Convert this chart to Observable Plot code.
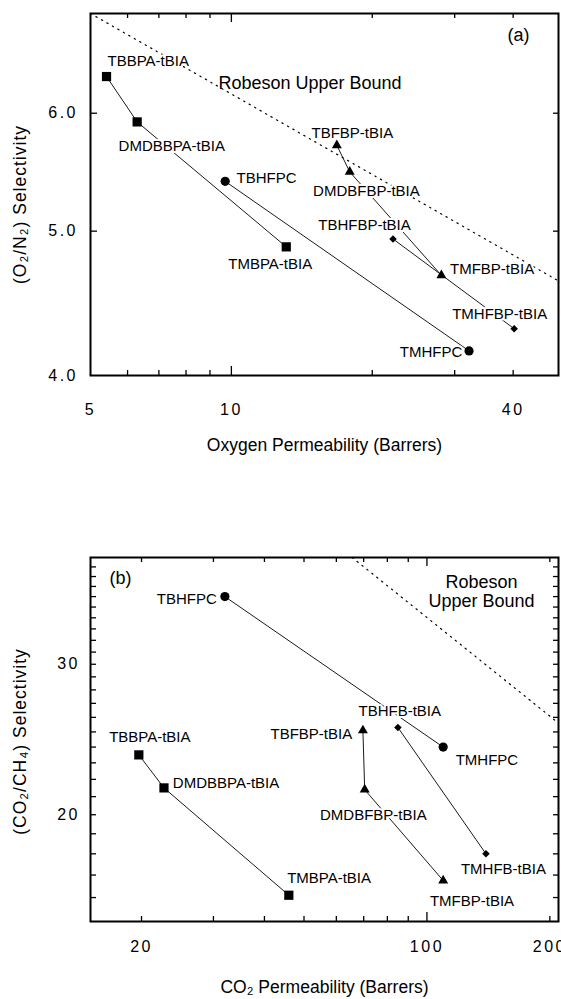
<!DOCTYPE html>
<html>
<head>
<meta charset="utf-8">
<script src="https://cdn.jsdelivr.net/npm/d3@7"></script>
<script src="https://cdn.jsdelivr.net/npm/@observablehq/plot@0.6"></script>
<style>
  html, body { margin: 0; padding: 0; background: #fff; }
  svg { display: block; }
  g[aria-label="x-axis tick label"] text, g[aria-label="y-axis tick label"] text { letter-spacing: 2.5px; }
  .ytitle text { letter-spacing: 1px; }
</style>
</head>
<body>
<div id="a"></div>
<div id="b"></div>
<script>
// ---------- Panel (a): O2/N2 ----------
const namesA = ["TBBPA-tBIA", "DMDBBPA-tBIA", "TMBPA-tBIA", "TBHFPC", "TMHFPC", "TBFBP-tBIA", "DMDBFBP-tBIA", "TMFBP-tBIA", "TBHFBP-tBIA", "TMHFBP-tBIA"];
const seriesA = ["BPA", "BPA", "BPA", "HFPC", "HFPC", "FBP", "FBP", "FBP", "HFBP", "HFBP"];
const o2Perm = [5.41, 6.29, 13.1, 9.70, 32.2, 16.8, 17.9, 28.1, 22.15, 40.2];
const o2n2Sel = [6.35, 5.92, 4.88, 5.40, 4.155, 5.71, 5.48, 4.67, 4.94, 4.30];
const robesonPermA = [5, 50];
const robesonSelA = [7.0, 4.63];
const xMinorA = [6, 7, 8, 9, 20, 30, 40];
const xMajorA = [10];
const xLabelsA = [5, 10, 40];
const yTicksA = [5, 6];
const yLabelsA = [4, 5, 6];

// ---------- Panel (b): CO2/CH4 ----------
const namesB = ["TBBPA-tBIA", "DMDBBPA-tBIA", "TMBPA-tBIA", "TBHFPC", "TMHFPC", "TBFBP-tBIA", "DMDBFBP-tBIA", "TMFBP-tBIA", "TBHFB-tBIA", "TMHFB-tBIA"];
const seriesB = ["BPA", "BPA", "BPA", "HFPC", "HFPC", "FBP", "FBP", "FBP", "HFBP", "HFBP"];
const co2Perm = [19.7, 22.7, 45.9, 32.0, 109.6, 69.7, 70.4, 109.6, 84.9, 139.5];
const co2ch4Sel = [23.5, 21.5, 16.1, 36.0, 24.0, 25.1, 21.4, 16.75, 25.3, 18.0];
const robesonPermB = [65.6, 210];
const robesonSelB = [40, 25.6];
const xMinorB = [20, 30, 40, 50, 60, 70, 80, 90, 200];
const xMajorB = [100];
const xLabelsB = [20, 100, 200];
const yTicksB = [16,17,18,19,20,21,22,23,24,25,26,27,28,29,30,31,32,33,34,35,36,37,38,39];
const yLabelsB = [20, 30];

// ---------- styling / layout ----------
const fontFamily = '"Liberation Sans", Arial, Helvetica, sans-serif';
const W = 561;
const layoutA = {height: 470, marginTop: 13, marginBottom: 95, marginLeft: 90, marginRight: 3};
const layoutB = {height: 529, marginTop: 87, marginBottom: 78, marginLeft: 90, marginRight: 3};
const markerStyle = {
  BPA: {symbol: "square", r: 5.2},
  HFPC: {symbol: "circle", r: 4.6},
  FBP: {symbol: "triangle", r: 3.7},
  HFBP: {symbol: "diamond2", r: 3.4}
};
// label placement relative to its point: [dx, dy, textAnchor]
const labelPosA = {
  "TBBPA-tBIA": [1, -15, "start"],
  "DMDBBPA-tBIA": [-18.6, 24, "start"],
  "TMBPA-tBIA": [-58, 17.3, "start"],
  "TBHFPC": [11.3, -3, "start"],
  "TMHFPC": [-6.8, 1.4, "end"],
  "TBFBP-tBIA": [-25.3, -12.3, "start"],
  "DMDBFBP-tBIA": [-36.6, 19.7, "start"],
  "TMFBP-tBIA": [8.6, -5.7, "start"],
  "TBHFBP-tBIA": [-74.8, -14, "start"],
  "TMHFBP-tBIA": [-62, -15, "start"]
};
const labelPosB = {
  "TBBPA-tBIA": [-29.7, -18, "start"],
  "DMDBBPA-tBIA": [8.9, -5, "start"],
  "TMBPA-tBIA": [-1.7, -17.3, "start"],
  "TBHFPC": [-8.1, 2.3, "end"],
  "TMHFPC": [12.5, 13.3, "start"],
  "TBFBP-tBIA": [-10.7, 4, "end"],
  "DMDBFBP-tBIA": [-44.7, 26, "start"],
  "TMFBP-tBIA": [-13.3, 20.7, "start"],
  "TBHFB-tBIA": [-39.4, -16.7, "start"],
  "TMHFB-tBIA": [-25, 15, "start"]
};

// inward ticks, drawn as short tick marks at the frame edges
function ticksX(values, len, lay) {
  const h = lay.height - lay.marginTop - lay.marginBottom;
  return [
    Plot.tickX(values, {x: d => d, insetTop: h - len, stroke: "black", strokeWidth: 1.3}),
    Plot.tickX(values, {x: d => d, insetBottom: h - len, stroke: "black", strokeWidth: 1.3})
  ];
}
function ticksY(values, lenL, lenR, lay) {
  const w = W - lay.marginLeft - lay.marginRight;
  return [
    Plot.tickY(values, {y: d => d, insetRight: w - lenL, stroke: "black", strokeWidth: 1.3}),
    Plot.tickY(values, {y: d => d, insetLeft: w - lenR, stroke: "black", strokeWidth: 1.3})
  ];
}
function pointMarks(rows, pos) {
  const marks = [];
  rows.forEach(d => {
    const [dx, dy, anchor] = pos[d.name];
    marks.push(Plot.text([d], {x: "perm", y: "sel", text: "name", dx, dy, textAnchor: anchor,
      fontSize: 15, fill: "black", stroke: "white", strokeWidth: 4}));
  });
  Object.entries(markerStyle).forEach(([s, st]) => {
    marks.push(Plot.dot(rows.filter(d => d.series === s), {x: "perm", y: "sel", symbol: st.symbol, r: st.r, fill: "black", stroke: "none"}));
  });
  return marks;
}

// ---------- build panel (a) ----------
const rowsA = namesA.map((name, i) => ({name, series: seriesA[i], perm: o2Perm[i], sel: o2n2Sel[i]}));
const robA = robesonPermA.map((p, i) => ({perm: p, sel: robesonSelA[i]}));

const plotA = Plot.plot({
  width: W, ...layoutA,
  style: {fontFamily, fontSize: "15px", color: "black", background: "white", overflow: "visible"},
  x: {type: "log", domain: [5, 50]},
  y: {type: "log", domain: [4, 7]},
  marks: [
    Plot.line(robA, {x: "perm", y: "sel", stroke: "black", strokeWidth: 1.2, strokeDasharray: "1.3,5"}),
    Plot.line(rowsA, {x: "perm", y: "sel", z: "series", stroke: "black", strokeWidth: 0.9}),
    ...pointMarks(rowsA, labelPosA),
    Plot.text(["Robeson Upper Bound"], {text: d => d, frameAnchor: "top-left", dx: 128, dy: 70, textAnchor: "start", lineAnchor: "middle", fontSize: 18}),
    Plot.text(["(a)"], {text: d => d, frameAnchor: "top-right", dx: -29, dy: 22, textAnchor: "end", lineAnchor: "middle", fontSize: 18}),
    ...ticksX(xMinorA, 5, layoutA),
    ...ticksX(xMajorA, 9, layoutA),
    ...ticksY(yTicksA, 7, 5, layoutA),
    Plot.axisX(xLabelsA, {anchor: "bottom", tickSize: 0, tickPadding: 28, fontSize: 16, tickFormat: d => String(d), label: null}),
    Plot.axisY(yLabelsA, {anchor: "left", tickSize: 0, tickPadding: 12.5, fontSize: 16, tickFormat: d => d.toFixed(1), label: null}),
    Plot.text(["Oxygen Permeability (Barrers)"], {text: d => d, frameAnchor: "bottom", dy: 70, textAnchor: "middle", lineAnchor: "middle", fontSize: 17.5}),
    Plot.text(["(O₂/N₂) Selectivity"], {text: d => d, frameAnchor: "left", dx: -70, dy: 10, rotate: -90, textAnchor: "middle", lineAnchor: "middle", fontSize: 17.5, className: "ytitle"}),
    Plot.frame({stroke: "black", strokeWidth: 2})
  ]
});
document.getElementById("a").append(plotA);

// ---------- build panel (b) ----------
const rowsB = namesB.map((name, i) => ({name, series: seriesB[i], perm: co2Perm[i], sel: co2ch4Sel[i]}));
const robB = robesonPermB.map((p, i) => ({perm: p, sel: robesonSelB[i]}));

const plotB = Plot.plot({
  width: W, ...layoutB,
  style: {fontFamily, fontSize: "15px", color: "black", background: "white", overflow: "visible"},
  x: {type: "log", domain: [15, 210]},
  y: {type: "log", domain: [15, 40]},
  marks: [
    Plot.line(robB, {x: "perm", y: "sel", stroke: "black", strokeWidth: 1.2, strokeDasharray: "1.3,5"}),
    Plot.line(rowsB, {x: "perm", y: "sel", z: "series", stroke: "black", strokeWidth: 0.9}),
    ...pointMarks(rowsB, labelPosB),
    Plot.text(["Robeson\nUpper Bound"], {text: d => d, frameAnchor: "top-right", dx: -77, dy: 34, textAnchor: "middle", lineAnchor: "middle", lineHeight: 1.07, fontSize: 18}),
    Plot.text(["(b)"], {text: d => d, frameAnchor: "top-left", dx: 19, dy: 21, textAnchor: "start", lineAnchor: "middle", fontSize: 18}),
    ...ticksX(xMinorB, 5, layoutB),
    ...ticksX(xMajorB, 9, layoutB),
    ...ticksY(yTicksB, 6, 5, layoutB),
    Plot.axisX(xLabelsB, {anchor: "bottom", tickSize: 0, tickPadding: 19, fontSize: 16, tickFormat: d => String(d), label: null}),
    Plot.axisY(yLabelsB, {anchor: "left", tickSize: 0, tickPadding: 10.5, fontSize: 16, tickFormat: d => String(d), label: null}),
    Plot.text(["CO₂ Permeability (Barrers)"], {text: d => d, frameAnchor: "bottom", dy: 66, textAnchor: "middle", lineAnchor: "middle", fontSize: 17.5}),
    Plot.text(["(CO₂/CH₄) Selectivity"], {text: d => d, frameAnchor: "left", dx: -70, dy: 2, rotate: -90, textAnchor: "middle", lineAnchor: "middle", fontSize: 17.5, className: "ytitle"}),
    Plot.frame({stroke: "black", strokeWidth: 2})
  ]
});
document.getElementById("b").append(plotB);
</script>
</body>
</html>
